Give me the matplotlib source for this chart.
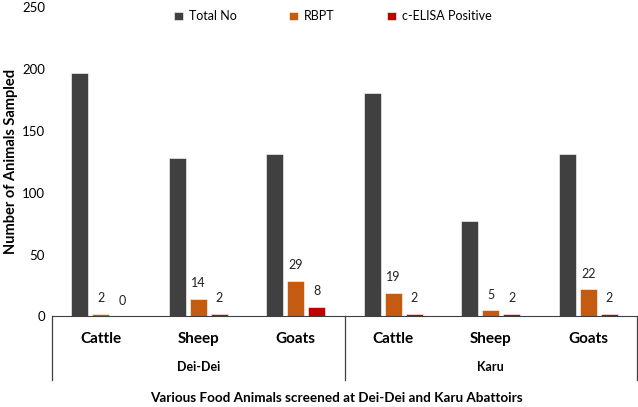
import numpy as np
from matplotlib import pyplot as plt
from matplotlib.transforms import blended_transform_factory

plt.rcParams['font.family'] = ['Lato', 'DejaVu Sans']

animals = ['Cattle', 'Sheep', 'Goats', 'Cattle', 'Sheep', 'Goats']
sites = ['Dei-Dei', 'Karu']
total_no = [197, 128, 131, 181, 77, 131]
rbpt = [2, 14, 29, 19, 5, 22]
elisa = [0, 2, 8, 2, 2, 2]

colors = ['#404040', '#C55A11', '#C00000']
names = ['Total No', 'RBPT', 'c-ELISA Positive']

fig = plt.figure(figsize=(6.38, 4.07), dpi=100)
ax = fig.add_axes([0.0815, 0.2224, 0.917, 0.760])

x = np.arange(len(animals))
w = 0.175
off = 0.216
ax.bar(x - off, total_no, w, color=colors[0], edgecolor='white', linewidth=0.4, label=names[0])
b1 = ax.bar(x, rbpt, w, color=colors[1], edgecolor='white', linewidth=0.4, label=names[1])
b2 = ax.bar(x + off, elisa, w, color=colors[2], edgecolor='white', linewidth=0.4, label=names[2])

for bars, vals in [(b1, rbpt), (b2, elisa)]:
  for b, v in zip(bars, vals):
    ax.annotate(str(v), (b.get_x() + b.get_width() / 2, v), xytext=(0, 7),
                textcoords='offset points', ha='center', va='bottom', fontsize=9, color='#222222')

ax.set_xlim(-0.5, 5.5)
ax.set_ylim(0, 250)
ax.set_yticks(np.arange(0, 251, 50))
ax.tick_params(axis='y', length=0, labelsize=9.5, pad=5)
ax.set_xticks(x)
ax.set_xticklabels(animals, fontsize=11, fontweight='bold')
ax.tick_params(axis='x', length=0, pad=11)

for s in ['top', 'right', 'left']:
  ax.spines[s].set_visible(False)
ax.spines['bottom'].set_color('#404040')

trans = blended_transform_factory(ax.transData, ax.transAxes)
for xv in [-0.5, 2.5, 5.5]:
  ax.plot([xv, xv], [0, -0.205], color='#404040', lw=0.9, transform=trans, clip_on=False)
for i, site in enumerate(sites):
  ax.text(1 + 3 * i, -0.163, site, transform=trans, ha='center', va='center', fontsize=9, fontweight='bold')

ax.set_ylabel('Number of Animals Sampled', fontsize=10.5, fontweight='bold')
ax.yaxis.set_label_coords(-0.058, 0.5)
fig.text(0.527, 0.022, 'Various Food Animals screened at Dei-Dei and Karu Abattoirs',
         ha='center', va='center', fontsize=9.7, fontweight='bold')

fig.legend(loc='center', bbox_to_anchor=(0.522, 0.96), ncol=3, frameon=False, fontsize=9,
           handlelength=0.7, handleheight=0.7, handletextpad=0.5, columnspacing=4.2)

plt.savefig('out.png', dpi=100)
